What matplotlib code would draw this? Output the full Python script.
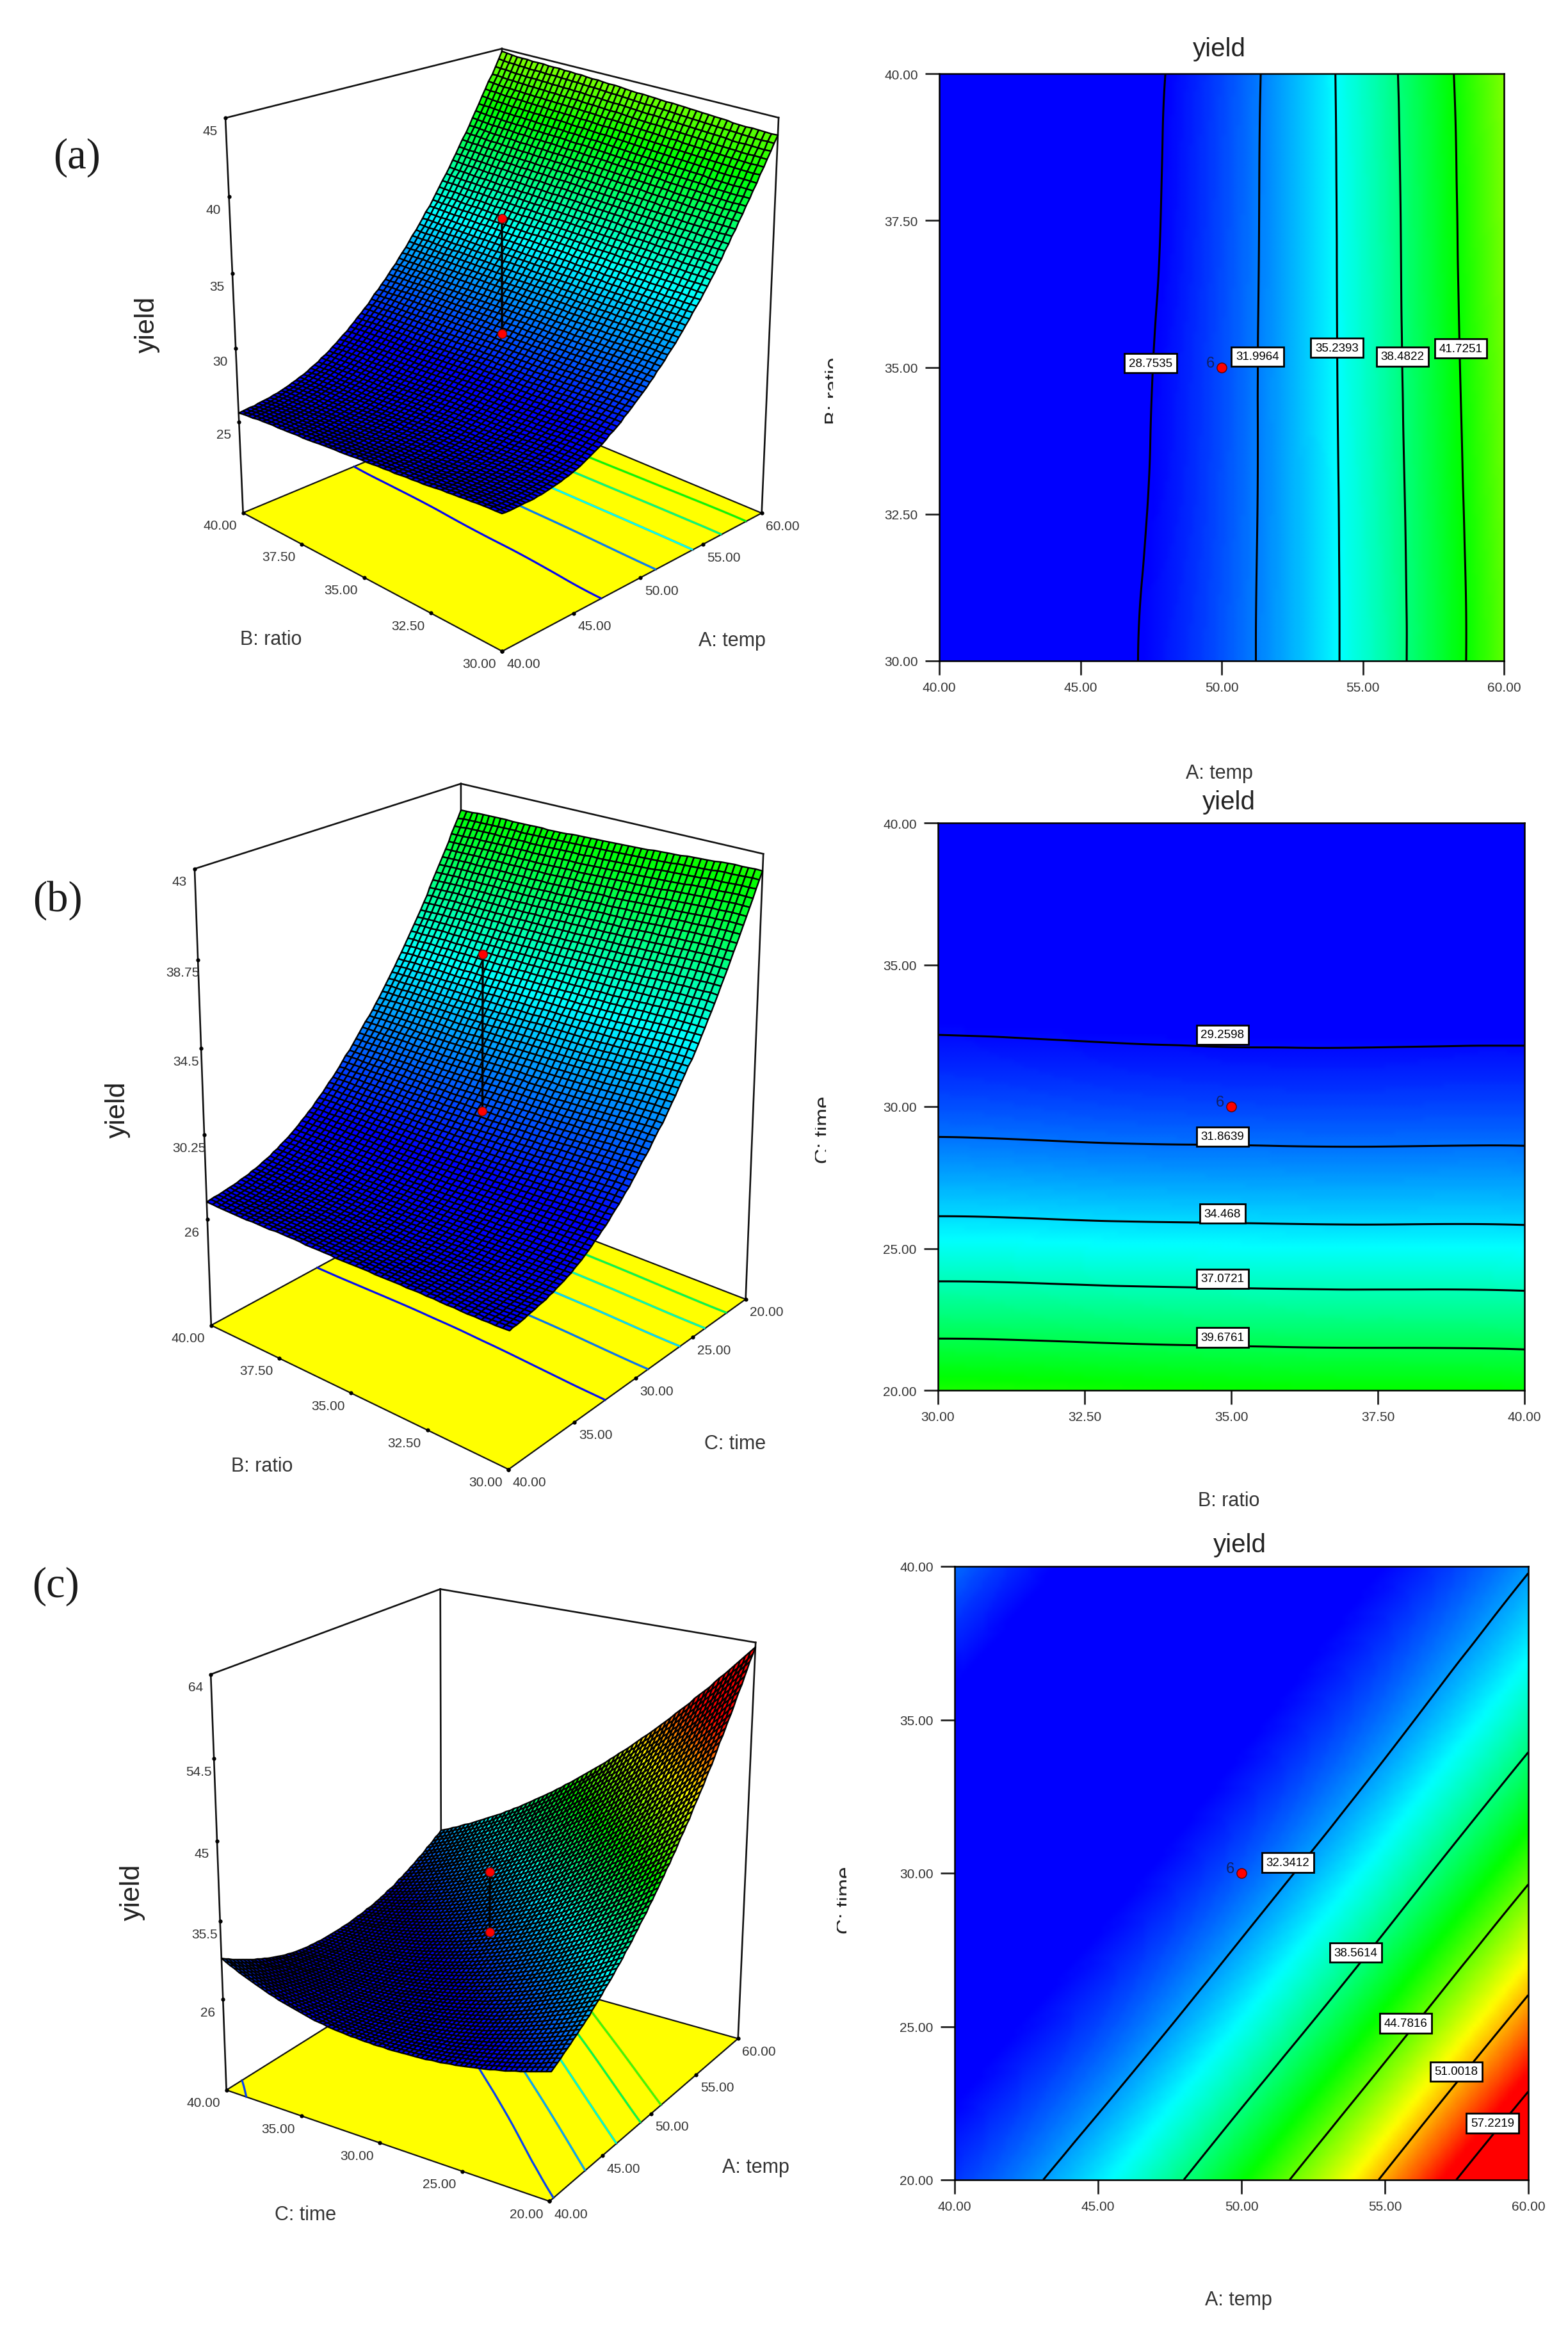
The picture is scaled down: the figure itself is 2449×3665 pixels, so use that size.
#!/usr/bin/env python3
"""Three response-surface panels (a, b, c): 3D surface on the left, contour on the right."""

import matplotlib

matplotlib.use("Agg")
import matplotlib.pyplot as plt
import matplotlib.tri as mtri
import numpy as np
from matplotlib.colors import LinearSegmentedColormap, Normalize
from matplotlib.patches import Polygon, Rectangle

W, H = 2449, 3666

# yield, rows = y axis of the contour plot, cols = x axis
A_VALS = [40.0, 45.0, 50.0, 55.0, 60.0]
B_VALS = [30.0, 32.5, 35.0, 37.5, 40.0]
C_VALS = [20.0, 25.0, 30.0, 35.0, 40.0]

YIELD_AB = [
    [27.2, 27.8, 30.9, 36.3, 43.9],
    [26.8, 27.55, 30.8, 36.35, 44.1],
    [26.4, 27.3, 30.75, 36.45, 44.35],
    [26.0, 27.0, 30.65, 36.5, 44.6],
    [25.6, 26.8, 30.55, 36.6, 44.8],
]
YIELD_BC = [
    [42.2, 42.0, 41.8, 41.68, 41.6],
    [35.7, 35.55, 35.44, 35.38, 35.35],
    [31.0, 30.85, 30.75, 30.72, 30.75],
    [28.05, 27.92, 27.8, 27.8, 27.85],
    [27.0, 26.95, 26.9, 26.9, 26.9],
]
YIELD_AC = [
    [29.5, 34.48, 41.8, 51.48, 63.5],
    [27.0, 29.96, 35.28, 42.94, 52.95],
    [26.3, 27.25, 30.55, 36.2, 44.2],
    [27.4, 26.34, 27.63, 31.27, 37.25],
    [31.0, 27.23, 26.5, 28.13, 32.15],
]

LEVELS_AB = [28.7535, 31.9964, 35.2393, 38.4822, 41.7251]
LEVELS_BC = [29.2598, 31.8639, 34.468, 37.0721, 39.6761]
LEVELS_AC = [32.3412, 38.5614, 44.7816, 51.0018, 57.2219]
# the 3D floor of panel c has its own, tighter set of lines
FLOOR_AC = [29.8, 32.6, 36.3, 40.0, 43.7]

LABELS_AB = ["28.7535", "31.9964", "35.2393", "38.4822", "41.7251"]
LABELS_BC = ["29.2598", "31.8639", "34.468", "37.0721", "39.6761"]
LABELS_AC = ["32.3412", "38.5614", "44.7816", "51.0018", "57.2219"]

LABEL_X_AB = [47.49, 51.27, 54.08, 56.41, 58.47]
LABEL_Y_AB = [35.07, 35.18, 35.33, 35.18, 35.32]
LABEL_X_BC = [34.85, 34.85, 34.85, 34.85, 34.85]
LABEL_Y_BC = [32.53, 28.94, 26.23, 23.93, 21.86]
LABEL_X_AC = [51.62, 53.99, 55.72, 57.49, 58.75]
LABEL_Y_AC = [30.34, 27.41, 25.10, 23.53, 21.85]

# the centre point: predicted (on the surface) and observed yield
DOT_Z_AB = [31.0, 38.6]
DOT_Z_BC = [30.9, 38.6]
DOT_Z_AC = [31.4, 38.8]

Z_TICKS_AB = [25.0, 30.0, 35.0, 40.0, 45.0]
Z_TICKS_BC = [26.0, 30.25, 34.5, 38.75, 43.0]
Z_TICKS_AC = [26.0, 35.5, 45.0, 54.5, 64.0]
Z_LABELS_AB = ["25", "30", "35", "40", "45"]
Z_LABELS_BC = ["26", "30.25", "34.5", "38.75", "43"]
Z_LABELS_AC = ["26", "35.5", "45", "54.5", "64"]

PANELS = [
    dict(tag="(a)", tag_pos=(120, 246), table=YIELD_AB, xv=A_VALS, yv=B_VALS,
         levels=LEVELS_AB, floor=LEVELS_AB, labels=LABELS_AB, lx=LABEL_X_AB, ly=LABEL_Y_AB,
         xname="A: temp", yname="B: ratio", dot=(50.0, 35.0), dot_z=DOT_Z_AB,
         xfmt=["40.00", "45.00", "50.00", "55.00", "60.00"],
         yfmt=["30.00", "32.50", "35.00", "37.50", "40.00"],
         rect=(1467, 116, 2349, 1033), title=(1904, 77), xl=(1904, 1208),
         yl=(1303, 610), yl_clip=(1288, 1301), mesh=(75, 48),
         zt=Z_TICKS_AB, zl=Z_LABELS_AB, zr=(18.6, 45.0), swap=False,
         ufront=40.0, uright=60.0, vfront=30.0, vleft=40.0,
         uname_pos=(1143, 1001), vname_pos=(423, 999), zname_pos=(230, 507),
         vmin=28.8, step=6.4,
         F=(784, 1018), R=(1190, 802), L=(380, 802), Bk=(784, 633),
         Lt=(352, 185), Rt=(1216, 185), Bt=(784, 77)),
    dict(tag="(b)", tag_pos=(90, 1406), table=YIELD_BC, xv=B_VALS, yv=C_VALS,
         levels=LEVELS_BC, floor=LEVELS_BC, labels=LABELS_BC, lx=LABEL_X_BC, ly=LABEL_Y_BC,
         xname="B: ratio", yname="C: time", dot=(35.0, 30.0), dot_z=DOT_Z_BC,
         xfmt=["30.00", "32.50", "35.00", "37.50", "40.00"],
         yfmt=["20.00", "25.00", "30.00", "35.00", "40.00"],
         rect=(1465, 1286, 2381, 2172), title=(1919, 1253), xl=(1919, 2344),
         yl=(1288, 1764), yl_clip=(1273, 1290), mesh=(75, 48),
         zt=Z_TICKS_BC, zl=Z_LABELS_BC, zr=(20.54, 43.0), swap=True,
         ufront=40.0, uright=20.0, vfront=30.0, vleft=40.0,
         uname_pos=(1148, 2255), vname_pos=(409, 2290), zname_pos=(184, 1733),
         vmin=29.0, step=6.3,
         F=(794, 2297), R=(1165, 2028), L=(330, 2069), Bk=(720, 1860),
         Lt=(304, 1358), Rt=(1192, 1335), Bt=(720, 1224)),
    dict(tag="(c)", tag_pos=(87, 2477), table=YIELD_AC, xv=A_VALS, yv=C_VALS,
         levels=LEVELS_AC, floor=FLOOR_AC, labels=LABELS_AC, lx=LABEL_X_AC, ly=LABEL_Y_AC,
         xname="A: temp", yname="C: time", dot=(50.0, 30.0), dot_z=DOT_Z_AC,
         xfmt=["40.00", "45.00", "50.00", "55.00", "60.00"],
         yfmt=["20.00", "25.00", "30.00", "35.00", "40.00"],
         rect=(1491, 2447, 2387, 3405), title=(1936, 2413), xl=(1934, 3592),
         yl=(1322, 2967), yl_clip=(1307, 1322), mesh=(70, 70),
         zt=Z_TICKS_AC, zl=Z_LABELS_AC, zr=(14.7, 64.0), swap=False,
         ufront=40.0, uright=60.0, vfront=20.0, vleft=40.0,
         uname_pos=(1180, 3385), vname_pos=(477, 3459), zname_pos=(207, 2955),
         vmin=28.0, step=7.0,
         F=(857, 3440), R=(1154, 3182), L=(355, 3264), Bk=(688, 3056),
         Lt=(329, 2615), Rt=(1180, 2567), Bt=(688, 2482)),
]

CMAP = LinearSegmentedColormap.from_list(
    "de", ["#0000ff", "#00ffff", "#00ff00", "#ffff00", "#ff0000"])


def fit_projection(p):
    """Solve the 3x4 camera matrix from the visible box corners (DLT)."""
    cube = [((0, 0, 0), p["F"]), ((1, 0, 0), p["R"]), ((0, 1, 0), p["L"]), ((1, 1, 0), p["Bk"]),
            ((0, 1, 1), p["Lt"]), ((1, 0, 1), p["Rt"]), ((1, 1, 1), p["Bt"])]
    rows = []
    for (u, v, w), (px, py) in cube:
        px, py = px / 1000.0, py / 1000.0
        rows.append([u, v, w, 1, 0, 0, 0, 0, -px * u, -px * v, -px * w, -px])
        rows.append([0, 0, 0, 0, u, v, w, 1, -py * u, -py * v, -py * w, -py])
    _, _, vt = np.linalg.svd(np.array(rows, dtype=float))
    return vt[-1].reshape(3, 4)


def project(cam, u, v, w):
    u, v, w = np.asarray(u, float), np.asarray(v, float), np.asarray(w, float)
    pts = np.stack([u, v, w, np.ones_like(u)], axis=-1)
    q = pts @ cam.T
    return 1000.0 * q[..., 0] / q[..., 2], 1000.0 * q[..., 1] / q[..., 2]


def draw_contour(fig, p, surf, norm):
    left, top, right, bottom = p["rect"]
    ax = fig.add_axes([left / W, 1 - bottom / H, (right - left) / W, (bottom - top) / H])
    xv, yv = p["xv"], p["yv"]
    xi = np.linspace(xv[0], xv[-1], 120)
    yi = np.linspace(yv[0], yv[-1], 120)
    gx, gy = np.meshgrid(xi, yi)
    zi = surf(gx, gy)
    ax.pcolormesh(xi, yi, zi, cmap=CMAP, norm=norm, shading="gouraud", rasterized=True)
    ax.contour(xi, yi, zi, levels=p["levels"], colors="k", linewidths=2.2)

    # lines for the 3D floor come from the same grid
    floor = ax.contour(xi, yi, zi, levels=p["floor"], colors="none")
    segs = floor.allsegs
    floor.remove()

    for txt, x, y in zip(p["labels"], p["lx"], p["ly"]):
        ax.text(x, y, txt, ha="center", va="center", fontsize=13.5, zorder=6,
                bbox=dict(boxstyle="square,pad=0.36", fc="white", ec="k", lw=2))
    ax.plot(*p["dot"], "o", color="#ff0000", mec="#600000", ms=11, zorder=7)
    ax.annotate("6", p["dot"], textcoords="offset points", xytext=(-13, 5), ha="center",
                va="center", fontsize=17, color="#102060", zorder=7)

    ax.set_xticks(xv)
    ax.set_xticklabels(p["xfmt"])
    ax.set_yticks(yv)
    ax.set_yticklabels(p["yfmt"])
    ax.tick_params(length=16, width=2, labelsize=15, color="#222222", labelcolor="#333333")
    ax.tick_params(axis="x", pad=7)
    ax.tick_params(axis="y", pad=8)
    for s in ax.spines.values():
        s.set_linewidth(1.8)
    return segs


def draw_surface(ov, p, surf, norm, floor_segs):
    cam = fit_projection(p)
    z0, z1 = p["zr"]

    def uvw(x, y, z):
        first, second = (y, x) if p["swap"] else (x, y)
        u = (np.asarray(first, float) - p["ufront"]) / (p["uright"] - p["ufront"])
        v = (np.asarray(second, float) - p["vfront"]) / (p["vleft"] - p["vfront"])
        w = (np.asarray(z, float) - z0) / (z1 - z0)
        return u, v, w

    # floor
    corners = [project(cam, *c) for c in [(0, 0, 0), (1, 0, 0), (1, 1, 0), (0, 1, 0)]]
    ov.add_patch(Polygon(corners, closed=True, fc="#ffff00", ec="#111111", lw=1.6, zorder=1))

    for level, segs in zip(p["floor"], floor_segs):
        for seg in segs:
            u, v, w = uvw(seg[:, 0], seg[:, 1], np.full(len(seg), z0))
            px, py = project(cam, u, v, w)
            ov.plot(px, py, color=CMAP(norm(level)), lw=2.0, zorder=2, solid_capstyle="butt")
            ov.plot(px, py, color="#103070", lw=2.6, alpha=0.35, zorder=1.9)

    # box lines behind the surface
    for a, b in [((0, 1, 0), (0, 1, 1)), ((1, 0, 0), (1, 0, 1)), ((1, 1, 0), (1, 1, 1)),
                 ((0, 1, 1), (1, 1, 1)), ((1, 0, 1), (1, 1, 1))]:
        pa, pb = project(cam, *a), project(cam, *b)
        ov.plot([pa[0], pb[0]], [pa[1], pb[1]], color="#111111", lw=1.9, zorder=3)

    # mesh, back row first so that the front cells come last
    nu, nv = p["mesh"]
    uu, vv = np.meshgrid(np.linspace(1.0, 0.0, nu + 1), np.linspace(1.0, 0.0, nv + 1))
    first = p["ufront"] + uu * (p["uright"] - p["ufront"])
    second = p["vfront"] + vv * (p["vleft"] - p["vfront"])
    gx, gy = (second, first) if p["swap"] else (first, second)
    gz = surf(gx, gy)
    px, py = project(cam, uu, vv, (gz - z0) / (z1 - z0))
    cells = (gz[:-1, :-1] + gz[1:, :-1] + gz[:-1, 1:] + gz[1:, 1:]) / 4.0
    ov.pcolormesh(px, py, cells, cmap=CMAP, norm=norm, shading="flat", edgecolors="#000000",
                  linewidth=1.7, antialiased=True, zorder=4)

    # centre-point stem
    dx, dy = p["dot"]
    u, v, w = uvw([dx, dx], [dy, dy], p["dot_z"])
    sx, sy = project(cam, u, v, w)
    ov.plot(sx, sy, color="#000000", lw=2.4, zorder=5)
    ov.plot(sx, sy, "o", color="#ff0000", mec="#701010", ms=10, zorder=6)

    # ticks and labels
    vpos = p["yv"] if not p["swap"] else p["xv"]
    upos = p["xv"] if not p["swap"] else p["yv"]
    vfmt = p["yfmt"] if not p["swap"] else p["xfmt"]
    ufmt = p["xfmt"] if not p["swap"] else p["yfmt"]
    kw = dict(ha="center", va="center", fontsize=15, color="#333333", zorder=7)
    for val, txt in zip(vpos, vfmt):
        t = (val - p["vfront"]) / (p["vleft"] - p["vfront"])
        x, y = project(cam, 0.0, t, 0.0)
        ov.plot(x, y, "o", color="k", ms=3.5, zorder=3)
        ov.text(x - 36, y + 20, txt, **kw)
    for val, txt in zip(upos, ufmt):
        t = (val - p["ufront"]) / (p["uright"] - p["ufront"])
        x, y = project(cam, t, 0.0, 0.0)
        ov.plot(x, y, "o", color="k", ms=3.5, zorder=3)
        ov.text(x + 33, y + 20, txt, **kw)
    for val, txt in zip(p["zt"], p["zl"]):
        x, y = project(cam, 0.0, 1.0, (val - z0) / (z1 - z0))
        ov.plot(x, y, "o", color="k", ms=3.5, zorder=3)
        ov.text(x - 24, y + 20, txt, **kw)

    names = (p["yname"], p["xname"]) if not p["swap"] else (p["xname"], p["yname"])
    ov.text(*p["vname_pos"], names[0], ha="center", va="center", fontsize=22, color="#333333")
    ov.text(*p["uname_pos"], names[1], ha="center", va="center", fontsize=22, color="#333333")
    ov.text(*p["zname_pos"], "yield", rotation=90, ha="center", va="center", fontsize=31,
            color="#222222")


def main():
    plt.rcParams["font.family"] = ["Liberation Sans", "DejaVu Sans"]
    fig = plt.figure(figsize=(W / 100, H / 100), dpi=100)
    ov = fig.add_axes([0, 0, 1, 1], zorder=5)
    ov.set_xlim(0, W)
    ov.set_ylim(H, 0)
    ov.axis("off")
    ov.patch.set_alpha(0)

    for p in PANELS:
        norm = Normalize(vmin=p["vmin"], vmax=p["vmin"] + 4 * p["step"])
        gx, gy = np.meshgrid(p["xv"], p["yv"])
        tri = mtri.Triangulation(gx.ravel(), gy.ravel())
        surf = mtri.CubicTriInterpolator(tri, np.array(p["table"], float).ravel(), kind="min_E")
        floor_segs = draw_contour(fig, p, surf, norm)
        draw_surface(ov, p, surf, norm, floor_segs)

        ov.text(*p["tag_pos"], p["tag"], family="Liberation Serif", fontsize=48, color="#1a1a1a",
                ha="center", va="center")
        ov.text(*p["title"], "yield", ha="center", va="center", fontsize=29, color="#222222")
        ov.text(*p["xl"], p["xname"], ha="center", va="center", fontsize=22, color="#333333")

        # the y name of the contour plot is cut off in the source, only a sliver shows
        t = ov.text(*p["yl"], p["yname"], rotation=90, ha="center", va="center", fontsize=24,
                    color="#222222")
        lo, hi = p["yl_clip"]
        box = Rectangle((lo, p["yl"][1] - 90), hi - lo, 180, transform=ov.transData)
        t.set_clip_path(box)
        t.set_clip_on(True)

    fig.savefig("out.png", dpi=100)


if __name__ == "__main__":
    main()
